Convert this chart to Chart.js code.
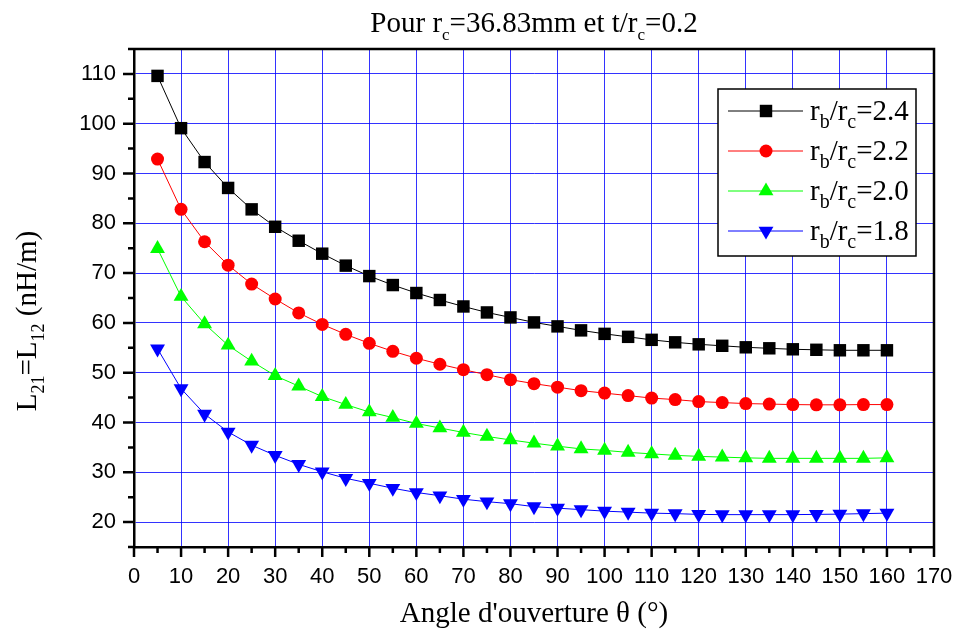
<!DOCTYPE html>
<html lang="fr">
<head>
<meta charset="UTF-8">
<title>L21 = L12 en fonction de l'angle d'ouverture</title>
<script src="https://cdn.jsdelivr.net/npm/chart.js"></script>
<style>
  html, body { margin: 0; padding: 0; background: #fff; }
  #wrap { width: 955px; height: 632px; }
</style>
</head>
<body>
<div id="wrap"><canvas id="chart" width="955" height="632"></canvas></div>
<script>
  // angle d'ouverture (degrés)
  const angles = [5, 10, 15, 20, 25, 30, 35, 40, 45, 50, 55, 60, 65, 70, 75, 80,
                  85, 90, 95, 100, 105, 110, 115, 120, 125, 130, 135, 140, 145, 150, 155, 160];

  // L21 = L12 (nH/m) pour chaque rapport rb/rc
  const ratios = ['2.4', '2.2', '2.0', '1.8'];
  const l_24 = [109.6, 99.1, 92.3, 87.1, 82.8, 79.3, 76.5, 73.9, 71.5, 69.4, 67.6, 66.0, 64.6, 63.3, 62.1, 61.1,
                60.1, 59.3, 58.5, 57.8, 57.2, 56.6, 56.1, 55.7, 55.4, 55.1, 54.9, 54.7, 54.6, 54.5, 54.5, 54.5];
  const l_22 = [92.9, 82.8, 76.3, 71.6, 67.8, 64.8, 62.0, 59.7, 57.7, 55.9, 54.3, 52.9, 51.7, 50.6, 49.6, 48.6,
                47.8, 47.1, 46.4, 45.9, 45.4, 44.9, 44.6, 44.2, 44.0, 43.8, 43.7, 43.6, 43.55, 43.55, 43.6, 43.6];
  const l_20 = [74.9, 65.3, 59.8, 55.5, 52.3, 49.4, 47.3, 45.2, 43.6, 42.1, 41.0, 39.8, 38.9, 38.0, 37.2, 36.5,
                35.85, 35.25, 34.7, 34.4, 34.0, 33.7, 33.4, 33.2, 33.05, 32.9, 32.8, 32.8, 32.8, 32.8, 32.8, 32.9];
  const l_18 = [54.8, 46.8, 41.7, 38.1, 35.45, 33.4, 31.6, 30.1, 28.8, 27.8, 26.8, 25.95, 25.3, 24.6, 24.1, 23.7,
                23.1, 22.8, 22.5, 22.2, 22.0, 21.8, 21.7, 21.55, 21.5, 21.5, 21.5, 21.5, 21.55, 21.6, 21.7, 21.8];

  const xTicks = { min: 0, max: 170, step: 5, labelEvery: 10 };
  const yTicks = { min: 15, max: 115, step: 5, labelEvery: 10 };

  const SERIF = '"Liberation Serif", "Times New Roman", serif';
  const SANS = '"Liberation Sans", Arial, sans-serif';
  const GRID = 'rgba(0, 0, 255, 0.8)';

  const series = [
    { values: l_24, color: '#000000', style: 'rect', radius: 8.8, rot: 0 },
    { values: l_22, color: '#ff0000', style: 'circle', radius: 6.5, rot: 0 },
    { values: l_20, color: '#00ff00', style: 'triangle', radius: 8.6, rot: 0 },
    { values: l_18, color: '#0000ff', style: 'triangle', radius: 8.6, rot: 180 }
  ];

  // texte avec indices : [texte, indice?]
  function richWidth(ctx, parts, size, k) {
    let w = 0;
    parts.forEach(([t, sub]) => {
      ctx.font = (sub ? Math.round(size * k) : size) + 'px ' + SERIF;
      w += ctx.measureText(t).width;
    });
    return w;
  }
  function drawRich(ctx, parts, size, k, x, y) {
    let cx = x;
    parts.forEach(([t, sub]) => {
      ctx.font = (sub ? Math.round(size * k) : size) + 'px ' + SERIF;
      ctx.fillText(t, cx, sub ? y + size * 0.26 : y);
      cx += ctx.measureText(t).width;
    });
  }

  function marker(ctx, style, r, rot, x, y) {
    ctx.beginPath();
    if (style === 'rect') {
      const s = r * Math.SQRT1_2;
      ctx.rect(x - s, y - s, 2 * s, 2 * s);
    } else if (style === 'circle') {
      ctx.arc(x, y, r, 0, Math.PI * 2);
    } else {
      let a = rot * Math.PI / 180;
      ctx.moveTo(x + Math.sin(a) * r, y - Math.cos(a) * r);
      for (let i = 0; i < 2; i++) {
        a += Math.PI * 2 / 3;
        ctx.lineTo(x + Math.sin(a) * r, y - Math.cos(a) * r);
      }
      ctx.closePath();
    }
    ctx.fill();
  }

  const decor = {
    id: 'decor',
    afterDraw(chart) {
      const { ctx, chartArea: a } = chart;
      const xs = chart.scales.x, ys = chart.scales.y;
      ctx.save();
      ctx.strokeStyle = '#000';
      ctx.lineWidth = 2.5;

      // cadre haut et droit
      ctx.beginPath();
      ctx.moveTo(a.left, a.top);
      ctx.lineTo(a.right, a.top);
      ctx.lineTo(a.right, a.bottom);
      ctx.stroke();

      // graduations majeures / mineures
      ctx.beginPath();
      xs.ticks.forEach(t => {
        const px = xs.getPixelForValue(t.value);
        const len = t.value % xTicks.labelEvery === 0 ? 10 : 6;
        ctx.moveTo(px, a.bottom);
        ctx.lineTo(px, a.bottom + len);
      });
      ys.ticks.forEach(t => {
        const py = ys.getPixelForValue(t.value);
        const len = t.value % yTicks.labelEvery === 0 ? 11 : 6;
        ctx.moveTo(a.left, py);
        ctx.lineTo(a.left - len, py);
      });
      ctx.stroke();

      ctx.fillStyle = '#000';
      ctx.textBaseline = 'alphabetic';
      const cx = (a.left + a.right) / 2;

      // titre
      const title = [['Pour r'], ['c', true], ['=36.83mm et t/r'], ['c', true], ['=0.2']];
      drawRich(ctx, title, 29, 0.6, cx - richWidth(ctx, title, 29, 0.6) / 2, 32);

      // titre axe x
      const xt = [["Angle d'ouverture \u03b8 (\u00b0)"]];
      drawRich(ctx, xt, 29, 0.6, cx - richWidth(ctx, xt, 29, 0.6) / 2, 622);

      // titre axe y
      const yt = [['L'], ['21', true], ['=L'], ['12', true], [' (nH/m)']];
      ctx.save();
      ctx.translate(36, 321);
      ctx.rotate(-Math.PI / 2);
      drawRich(ctx, yt, 29, 0.62, -richWidth(ctx, yt, 29, 0.62) / 2, 0);
      ctx.restore();

      // légende
      const box = { x: 718, y: 89, w: 198, h: 167 };
      ctx.fillStyle = '#fff';
      ctx.fillRect(box.x, box.y, box.w, box.h);
      ctx.lineWidth = 1.5;
      ctx.strokeRect(box.x, box.y, box.w, box.h);
      series.forEach((s, i) => {
        const ry = 111 + i * 40;
        ctx.strokeStyle = s.color;
        ctx.lineWidth = 1;
        ctx.beginPath();
        ctx.moveTo(728, ry);
        ctx.lineTo(803, ry);
        ctx.stroke();
        ctx.fillStyle = s.color;
        marker(ctx, s.style, s.radius, s.rot, 766, ry);
        ctx.fillStyle = '#000';
        drawRich(ctx, [['r'], ['b', true], ['/r'], ['c', true], ['=' + ratios[i]]], 29, 0.68, 810, ry + 9);
      });
      ctx.restore();
    }
  };

  const datasets = series.map((s, i) => ({
    label: 'rb/rc=' + ratios[i],
    data: angles.map((x, j) => ({ x: x, y: s.values[j] })),
    borderColor: s.color,
    backgroundColor: s.color,
    borderWidth: 1,
    pointStyle: s.style,
    pointRadius: s.radius,
    pointRotation: s.rot,
    pointBorderWidth: 0,
    pointBackgroundColor: s.color,
    tension: 0
  }));

  function scaleOpts(t, extra) {
    return Object.assign({
      type: 'linear',
      min: t.min,
      max: t.max,
      border: { display: true, color: '#000', width: 2.5 },
      grid: {
        drawTicks: false,
        lineWidth: 1,
        color: c => (c.tick && c.tick.value % t.labelEvery === 0) ? GRID : 'rgba(0,0,0,0)'
      },
      ticks: {
        stepSize: t.step,
        autoSkip: false,
        maxRotation: 0,
        color: '#000',
        font: { family: SANS, size: 22 },
        callback: v => (v % t.labelEvery === 0 ? String(v) : '')
      }
    }, extra);
  }

  const xOpts = scaleOpts(xTicks, {
    afterFit: s => { s.height = 85; s.paddingLeft = 0; s.paddingRight = 0; }
  });
  xOpts.ticks.padding = 17;
  const yOpts = scaleOpts(yTicks, {
    afterFit: s => { s.width = 134; s.paddingTop = 0; s.paddingBottom = 0; }
  });
  yOpts.ticks.padding = 18;

  new Chart(document.getElementById('chart'), {
    type: 'line',
    data: { datasets: datasets },
    options: {
      responsive: false,
      animation: false,
      layout: { padding: { top: 49, right: 21, left: 0, bottom: 0 } },
      plugins: { legend: { display: false }, title: { display: false }, tooltip: { enabled: false } },
      scales: { x: xOpts, y: yOpts }
    },
    plugins: [decor]
  });
</script>
</body>
</html>
